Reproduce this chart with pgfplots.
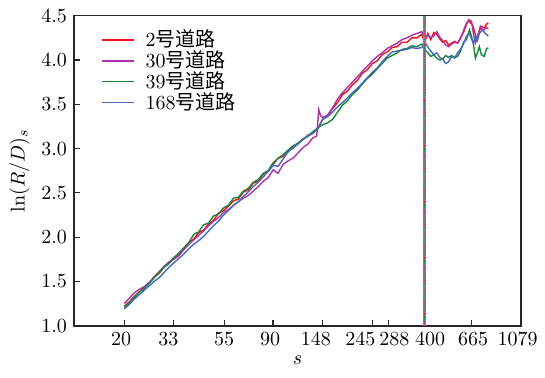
\documentclass[border=0pt]{standalone}
\usepackage{pgfplots}
\pgfplotsset{compat=1.18}
\usepackage{fontspec}
\newfontfamily\cjk{Noto Sans CJK SC}
\definecolor{cR}{RGB}{240,20,30}
\definecolor{cM}{RGB}{170,50,170}
\definecolor{cG}{RGB}{25,135,55}
\definecolor{cB}{RGB}{70,105,190}
\newcommand{\sh}[2]{\makebox[0pt]{\kern#1\makebox[0pt]{#2}}}
\begin{document}
\begin{tikzpicture}
\begin{axis}[
  scale only axis,
  width=223.5pt, height=155pt,
  xmin=2.492, xmax=7.0, ymin=1.0, ymax=4.5,
  axis line style={line width=0.8pt, black!85},
  tick style={black!85, line width=0.6pt},
  tick align=inside,
  xtick pos=bottom, ytick pos=left,
  major tick length=3pt,
  xtick={3.0,3.497,4.007,4.5,4.997,5.501,5.663,6.025,6.5,7.0},
  xticklabels={\sh{-3.3pt}{20},\sh{-5.2pt}{33},\sh{0pt}{55},\sh{-3pt}{90},\sh{-6.4pt}{148},\sh{-12pt}{245},\sh{6pt}{288},\sh{5.7pt}{400},\sh{1.6pt}{665},\sh{-3.3pt}{1079}},
  xticklabel style={text height=6.5pt, text depth=0pt},
  ytick={1.0,1.5,2.0,2.5,3.0,3.5,4.0,4.5},
  yticklabel style={/pgf/number format/.cd, fixed, fixed zerofill, precision=1},
  xlabel={$s$}, ylabel={$\ln(R/D)_s$},
  xlabel style={yshift=2pt},
  ylabel style={yshift=-1pt},
  legend style={draw=none, fill=none, at={(0.055,0.975)}, anchor=north west,
    font=\normalsize, row sep=-3.5pt, inner sep=1pt,
    nodes={inner xsep=5.5pt}},
  legend cell align=left,
  legend image code/.code={\draw[#1, line width=0.85pt] (0pt,0pt) -- (16pt,0pt);},
  every axis plot/.append style={line width=0.7pt},
  clip=false,
]
\addplot[cR] coordinates {
(3.00,1.22)(3.05,1.27)(3.10,1.33)(3.15,1.38)(3.20,1.43)(3.25,1.48)(3.30,1.55)(3.35,1.59)(3.40,1.66)(3.45,1.71)
(3.50,1.76)(3.55,1.81)(3.60,1.86)(3.65,1.93)(3.70,1.98)(3.75,2.05)(3.80,2.08)(3.85,2.15)(3.90,2.19)(3.95,2.27)
(4.00,2.30)(4.05,2.35)(4.10,2.41)(4.15,2.43)(4.20,2.51)(4.25,2.53)(4.30,2.61)(4.35,2.63)(4.40,2.71)(4.45,2.75)
(4.50,2.82)(4.55,2.89)(4.60,2.91)(4.65,2.98)(4.70,3.00)(4.75,3.06)(4.80,3.10)(4.85,3.15)(4.90,3.17)(4.95,3.23)
(5.00,3.33)(5.05,3.37)(5.10,3.45)(5.15,3.52)(5.20,3.61)(5.25,3.65)(5.30,3.72)(5.35,3.77)(5.40,3.85)(5.45,3.89)
(5.50,3.96)(5.55,3.99)(5.60,4.06)(5.65,4.09)(5.70,4.14)(5.75,4.15)(5.80,4.20)(5.85,4.20)(5.90,4.25)(5.95,4.25)
(6.00,4.29)(6.03,4.20)(6.06,4.30)(6.09,4.23)(6.12,4.31)(6.15,4.29)(6.18,4.24)(6.21,4.20)(6.24,4.22)(6.27,4.17)
(6.30,4.19)(6.33,4.21)(6.36,4.19)(6.39,4.25)(6.42,4.31)(6.45,4.40)(6.47,4.45)(6.49,4.42)(6.51,4.40)(6.53,4.33)
(6.55,4.23)(6.57,4.30)(6.60,4.38)(6.63,4.36)(6.65,4.40)(6.67,4.42)};
\addlegendentry{2{\cjk 号道路}}
\addplot[cM] coordinates {
(3.00,1.25)(3.05,1.31)(3.10,1.37)(3.15,1.41)(3.20,1.44)(3.25,1.49)(3.30,1.55)(3.35,1.61)(3.40,1.67)(3.45,1.72)
(3.50,1.75)(3.55,1.79)(3.60,1.86)(3.65,1.92)(3.70,1.97)(3.75,2.02)(3.80,2.07)(3.85,2.13)(3.90,2.18)(3.95,2.22)
(4.00,2.28)(4.05,2.31)(4.10,2.36)(4.15,2.40)(4.20,2.44)(4.25,2.47)(4.30,2.52)(4.35,2.57)(4.40,2.63)(4.45,2.67)
(4.50,2.76)(4.55,2.72)(4.60,2.82)(4.65,2.86)(4.70,2.89)(4.75,2.95)(4.80,3.01)(4.85,3.05)(4.90,3.12)(4.94,3.14)
(4.96,3.44)(4.98,3.37)(5.00,3.35)(5.05,3.38)(5.10,3.46)(5.15,3.56)(5.20,3.63)(5.25,3.69)(5.30,3.75)(5.35,3.81)
(5.40,3.87)(5.45,3.93)(5.50,3.99)(5.55,4.04)(5.60,4.08)(5.65,4.13)(5.70,4.16)(5.75,4.19)(5.80,4.23)(5.85,4.25)
(5.90,4.28)(5.95,4.30)(6.00,4.32)(6.03,4.24)(6.06,4.28)(6.09,4.25)(6.12,4.27)(6.15,4.32)(6.18,4.26)(6.21,4.22)
(6.24,4.17)(6.27,4.15)(6.30,4.18)(6.33,4.20)(6.36,4.19)(6.39,4.24)(6.42,4.33)(6.45,4.42)(6.48,4.45)(6.50,4.44)
(6.52,4.30)(6.54,4.19)(6.56,4.25)(6.59,4.38)(6.62,4.33)(6.65,4.37)(6.67,4.35)};
\addlegendentry{30{\cjk 号道路}}
\addplot[cG] coordinates {
(3.00,1.21)(3.05,1.26)(3.10,1.32)(3.15,1.38)(3.20,1.42)(3.25,1.48)(3.30,1.54)(3.35,1.60)(3.40,1.66)(3.45,1.70)
(3.50,1.77)(3.55,1.82)(3.60,1.88)(3.65,1.94)(3.70,2.03)(3.75,2.06)(3.80,2.14)(3.85,2.16)(3.90,2.24)(3.95,2.26)
(4.00,2.33)(4.05,2.36)(4.10,2.44)(4.15,2.45)(4.20,2.52)(4.25,2.55)(4.30,2.62)(4.35,2.65)(4.40,2.72)(4.45,2.75)
(4.50,2.84)(4.55,2.89)(4.60,2.93)(4.65,2.98)(4.70,3.03)(4.75,3.06)(4.80,3.11)(4.85,3.14)(4.90,3.19)(4.95,3.23)
(5.00,3.27)(5.05,3.29)(5.10,3.33)(5.15,3.41)(5.20,3.49)(5.25,3.54)(5.30,3.61)(5.35,3.66)(5.40,3.73)(5.45,3.79)
(5.50,3.84)(5.55,3.90)(5.60,3.96)(5.65,4.02)(5.70,4.05)(5.75,4.08)(5.80,4.12)(5.85,4.13)(5.90,4.16)(5.95,4.15)
(6.00,4.18)(6.03,4.12)(6.06,4.08)(6.09,4.04)(6.12,4.06)(6.15,4.02)(6.18,4.00)(6.21,4.01)(6.24,4.05)(6.27,4.03)
(6.30,4.05)(6.33,4.03)(6.36,4.04)(6.39,4.10)(6.42,4.20)(6.45,4.23)(6.48,4.34)(6.50,4.27)(6.52,4.18)(6.54,4.02)
(6.56,4.08)(6.58,4.15)(6.60,4.06)(6.63,4.04)(6.65,4.12)(6.67,4.14)};
\addlegendentry{39{\cjk 号道路}}
\addplot[cB] coordinates {
(3.00,1.19)(3.05,1.24)(3.10,1.30)(3.15,1.35)(3.20,1.40)(3.25,1.45)(3.30,1.50)(3.35,1.54)(3.40,1.60)(3.45,1.66)
(3.50,1.71)(3.55,1.76)(3.60,1.81)(3.65,1.87)(3.70,1.92)(3.75,1.96)(3.80,2.01)(3.85,2.07)(3.90,2.13)(3.95,2.18)
(4.00,2.25)(4.05,2.30)(4.10,2.36)(4.15,2.40)(4.20,2.46)(4.25,2.51)(4.30,2.57)(4.35,2.62)(4.40,2.68)(4.45,2.74)
(4.50,2.81)(4.55,2.80)(4.60,2.88)(4.65,2.96)(4.70,3.01)(4.75,3.05)(4.80,3.10)(4.85,3.14)(4.90,3.17)(4.95,3.22)
(5.00,3.33)(5.05,3.36)(5.10,3.41)(5.15,3.47)(5.20,3.52)(5.25,3.57)(5.30,3.63)(5.35,3.68)(5.40,3.74)(5.45,3.80)
(5.50,3.86)(5.55,3.91)(5.60,3.98)(5.65,4.04)(5.70,4.09)(5.75,4.10)(5.80,4.11)(5.85,4.12)(5.90,4.14)(5.95,4.13)
(6.00,4.14)(6.03,4.20)(6.06,4.15)(6.09,4.10)(6.12,4.06)(6.15,4.08)(6.18,4.03)(6.21,4.01)(6.24,3.96)(6.27,3.98)
(6.30,4.04)(6.33,4.02)(6.36,4.08)(6.39,4.12)(6.42,4.18)(6.45,4.27)(6.48,4.30)(6.50,4.24)(6.52,4.19)(6.54,4.27)
(6.56,4.22)(6.58,4.30)(6.61,4.34)(6.64,4.30)(6.67,4.27)};
\addlegendentry{168{\cjk 号道路}}
\addplot[forget plot, gray, line width=1.5pt] coordinates {(6.025,1.0)(6.025,4.5)};
\addplot[forget plot, cR, line width=0.6pt, dash pattern=on 0.6pt off 5pt] coordinates {(6.025,1.0)(6.025,4.5)};
\addplot[forget plot, cG, line width=0.6pt, dash pattern=on 0.6pt off 5pt, dash phase=1.5pt] coordinates {(6.025,1.0)(6.025,4.5)};
\addplot[forget plot, cB, line width=0.6pt, dash pattern=on 0.6pt off 5pt, dash phase=3pt] coordinates {(6.025,1.0)(6.025,4.5)};
\addplot[forget plot, cM, line width=0.6pt, dash pattern=on 0.6pt off 5pt, dash phase=4.5pt] coordinates {(6.025,1.0)(6.025,4.5)};
\path (rel axis cs:-0.1655,-0.1676) rectangle (rel axis cs:1.0537,1.0506);
\end{axis}
\end{tikzpicture}
\end{document}
